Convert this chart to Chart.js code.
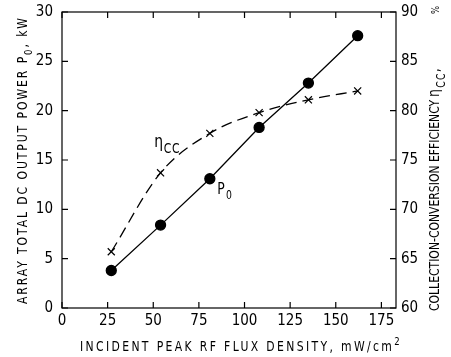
<!DOCTYPE html>
<html>
<head>
<meta charset="utf-8">
<script src="https://cdn.jsdelivr.net/npm/chart.js@4/dist/chart.umd.min.js"></script>
<style>
  html, body { margin: 0; padding: 0; background: #fff; }
  #wrap { width: 451px; height: 357px; }
</style>
</head>
<body>
<div id="wrap"><canvas id="fluxChart"></canvas></div>
<script>
// valores
const fluxDensity = [27, 54, 81, 108, 135, 162];
const outputPowerKW = [3.8, 8.4, 13.1, 18.3, 22.8, 27.6];
const efficiencyPct = [65.7, 73.7, 77.7, 79.8, 81.1, 82.0];
const xTickValues = [0, 25, 50, 75, 100, 125, 150, 175];
const leftTickValues = [0, 5, 10, 15, 20, 25, 30];
const rightTickValues = [60, 65, 70, 75, 80, 85, 90];

const FONT = '"Liberation Sans Narrow", "DejaVu Sans Condensed", "Liberation Sans", sans-serif';
const SQUEEZE = 0.86;

function partSize(p, size) {
    return p.sub || p.sup ? Math.round(size * 0.75) : size;
}
function richWidth(ctx, parts, size) {
    let w = 0;
    parts.forEach(p => {
        ctx.font = partSize(p, size) + 'px ' + FONT;
        w += ctx.measureText(p.t).width;
    });
    return w;
}
// texto estrecho y espaciado para ocupar 'len' pixeles desde (x, y)
function drawFitted(ctx, parts, x, y, size, len) {
    ctx.save();
    ctx.letterSpacing = '0px';
    const w = richWidth(ctx, parts, size);
    const n = parts.reduce((s, p) => s + p.t.length, 0);
    const sp = Math.max(0, (len / SQUEEZE - w) / n);
    ctx.translate(x, y);
    ctx.scale(SQUEEZE, 1);
    ctx.letterSpacing = sp + 'px';
    let cx = 0;
    parts.forEach(p => {
        ctx.font = partSize(p, size) + 'px ' + FONT;
        let dy = 0;
        if (p.sub) dy = size * 0.35;
        if (p.sup) dy = -size * 0.45;
        ctx.fillText(p.t, cx, dy);
        cx += ctx.measureText(p.t).width;
    });
    ctx.restore();
}

const framePlugin = {
    id: 'framePlugin',
    afterDraw(chart) {
        const ctx = chart.ctx;
        const a = chart.chartArea;
        const sx = chart.scales.x, sy = chart.scales.y, sy2 = chart.scales.y2;
        ctx.save();
        ctx.strokeStyle = '#000';
        ctx.lineWidth = 1.2;
        ctx.strokeRect(a.left, a.top, a.right - a.left, a.bottom - a.top);

        // marcas hacia dentro
        const tl = 6;
        ctx.beginPath();
        xTickValues.forEach(v => {
            const px = sx.getPixelForValue(v);
            ctx.moveTo(px, a.bottom); ctx.lineTo(px, a.bottom - tl);
            ctx.moveTo(px, a.top); ctx.lineTo(px, a.top + tl);
        });
        leftTickValues.forEach(v => {
            const py = sy.getPixelForValue(v);
            ctx.moveTo(a.left, py); ctx.lineTo(a.left + tl, py);
        });
        rightTickValues.forEach(v => {
            const py = sy2.getPixelForValue(v);
            ctx.moveTo(a.right, py); ctx.lineTo(a.right - tl, py);
        });
        ctx.stroke();

        ctx.fillStyle = '#000';
        ctx.textBaseline = 'alphabetic';
        ctx.textAlign = 'left';

        // titulo eje x
        drawFitted(ctx, [{t: 'INCIDENT PEAK RF FLUX DENSITY, mW/cm'}, {t: '2', sup: true}],
            80, 351, 14, 322);

        // titulo eje izquierdo
        ctx.save();
        ctx.translate(27, 304);
        ctx.rotate(-Math.PI / 2);
        drawFitted(ctx, [{t: 'ARRAY TOTAL DC OUTPUT POWER P'}, {t: '0', sub: true}, {t: ', kW'}],
            0, 0, 14, 288);
        ctx.restore();

        // titulo eje derecho
        ctx.save();
        ctx.translate(439, 311);
        ctx.rotate(-Math.PI / 2);
        drawFitted(ctx, [{t: 'COLLECTION-CONVERSION EFFICIENCY'}], 0, 0, 14, 210);
        drawFitted(ctx, [{t: '\u03b7'}, {t: 'CC', sub: true}, {t: ','}], 214, 0, 16, 30);
        drawFitted(ctx, [{t: '%'}], 297, 0, 11, 9);
        ctx.restore();

        // etiquetas de las curvas
        drawFitted(ctx, [{t: '\u03b7'}, {t: 'CC', sub: true}],
            sx.getPixelForValue(50.5), sy.getPixelForValue(16.3), 18, 26);
        drawFitted(ctx, [{t: 'P'}, {t: '0', sub: true}],
            sx.getPixelForValue(85), sy.getPixelForValue(11.6), 16, 16);
        ctx.restore();
    }
};

const config = {
    type: 'scatter',
    data: {
        datasets: [
            {
                label: 'P0',
                data: fluxDensity.map((x, i) => ({x: x, y: outputPowerKW[i]})),
                yAxisID: 'y',
                showLine: true,
                borderColor: '#000',
                backgroundColor: '#000',
                borderWidth: 1.3,
                pointRadius: 5,
                pointStyle: 'circle'
            },
            {
                label: 'eta_cc',
                data: fluxDensity.map((x, i) => ({x: x, y: efficiencyPct[i]})),
                yAxisID: 'y2',
                showLine: true,
                borderColor: '#000',
                backgroundColor: '#000',
                borderWidth: 1.3,
                borderDash: [11, 6],
                cubicInterpolationMode: 'monotone',
                pointRadius: 5,
                pointBorderWidth: 1.2,
                pointStyle: 'crossRot'
            }
        ]
    },
    options: {
        responsive: true,
        maintainAspectRatio: false,
        animation: false,
        layout: { padding: { top: 12 } },
        plugins: {
            legend: { display: false },
            tooltip: { enabled: false }
        },
        scales: {
            x: {
                type: 'linear',
                min: 0,
                max: 183,
                afterBuildTicks: s => { s.ticks = xTickValues.map(v => ({value: v})); },
                afterFit: s => { s.height = 49; s.paddingLeft = 0; s.paddingRight = 0; },
                grid: { display: false, drawTicks: false },
                border: { display: false },
                ticks: { color: '#000', padding: 4, font: { family: FONT, size: 15 } }
            },
            y: {
                position: 'left',
                min: 0,
                max: 30,
                afterBuildTicks: s => { s.ticks = leftTickValues.map(v => ({value: v})); },
                afterFit: s => { s.width = 62; s.paddingTop = 0; s.paddingBottom = 0; },
                grid: { display: false, drawTicks: false },
                border: { display: false },
                ticks: { color: '#000', padding: 9, font: { family: FONT, size: 15 } }
            },
            y2: {
                position: 'right',
                min: 60,
                max: 90,
                afterBuildTicks: s => { s.ticks = rightTickValues.map(v => ({value: v})); },
                afterFit: s => { s.width = 55; s.paddingTop = 0; s.paddingBottom = 0; },
                grid: { display: false, drawTicks: false },
                border: { display: false },
                ticks: { color: '#000', padding: 5, font: { family: FONT, size: 15 } }
            }
        }
    },
    plugins: [framePlugin]
};

new Chart(document.getElementById('fluxChart'), config);
</script>
</body>
</html>
